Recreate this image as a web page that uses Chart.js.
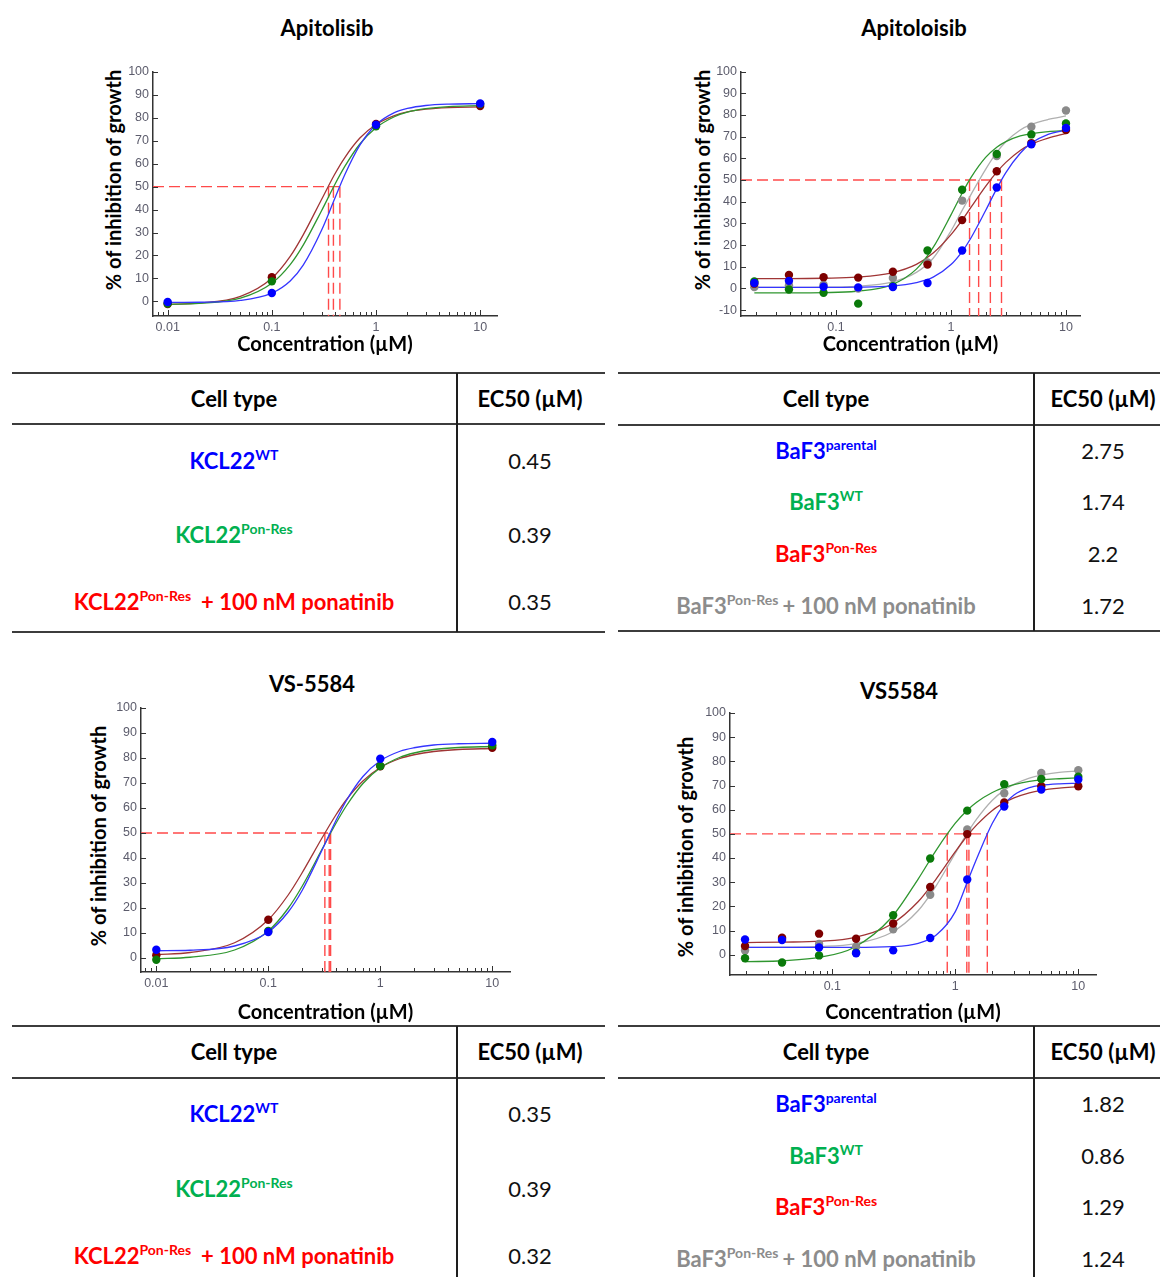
<!DOCTYPE html>
<html>
<head>
<meta charset="utf-8">
<script src="https://cdn.jsdelivr.net/npm/chart.js@4.4.1/dist/chart.umd.min.js"></script>
<style>
  body { margin: 0; background: #fff; }
  #page { position: relative; width: 1160px; height: 1277px; overflow: hidden; font-family: Lato, "Open Sans", sans-serif; color: #000; }
  canvas { position: absolute; }
  .title { position: absolute; transform: translate(-50%, -50%); font-weight: 700; font-size: 22px; white-space: nowrap; }
  .ytitle { position: absolute; transform: translate(-50%, -50%) rotate(-90deg); font-weight: 700; font-size: 20px; white-space: nowrap; }
  .hline { position: absolute; height: 2px; background: #3c3c3c; }
  .vline { position: absolute; width: 2px; background: #1e1e1e; }
  .cell { position: absolute; transform: translate(-50%, -50%); white-space: nowrap; font-size: 22px; line-height: 1; }
  .head { font-weight: 700; }
  .lab { font-weight: 700; }
  .sp { font-size: 14px; position: relative; top: -9px; }
</style>
</head>
<body>
<div id="page">
  <div class="title" style="left:327px;top:27px">Apitolisib</div>
  <div class="title" style="left:914px;top:27px">Apitoloisib</div>
  <div class="title" style="left:312px;top:683px">VS-5584</div>
  <div class="title" style="left:899px;top:690px">VS5584</div>

  <div class="ytitle" style="left:113px;top:180px">% of inhibition of growth</div>
  <div class="ytitle" style="left:702px;top:180px">% of inhibition of growth</div>
  <div class="ytitle" style="left:98px;top:836px">% of inhibition of growth</div>
  <div class="ytitle" style="left:685px;top:847px">% of inhibition of growth</div>

  <canvas id="chartTL"></canvas>
  <canvas id="chartTR"></canvas>
  <canvas id="chartBL"></canvas>
  <canvas id="chartBR"></canvas>
</div>

<script>
// AXIS TICKS
const xTickLabels = [0.01, 0.1, 1, 10];
const xMinorSteps = [2, 3, 4, 5, 6, 7, 8, 9];
const yTickValues = [-10, 0, 10, 20, 30, 40, 50, 60, 70, 80, 90, 100];

// KCL22 CONCENTRATIONS (µM)
const kclConc = [0.01, 0.1, 1, 10];
const kclCurveConc = [0.01, 0.02, 0.05, 0.1, 0.15, 0.2, 0.3, 0.4, 0.5, 0.7, 1, 1.5, 2, 3, 5, 10];

// BAF3 CONCENTRATIONS (µM)
const bafConc = [0.0195, 0.039, 0.078, 0.156, 0.3125, 0.625, 1.25, 2.5, 5, 10];
const bafCurveConc = [0.0195, 0.04, 0.08, 0.15, 0.3, 0.5, 0.7, 1, 1.25, 1.5, 2, 2.5, 3, 4, 5, 7, 10];

// APITOLISIB - KCL22
const apiKclWT = [-0.3, 3.6, 77, 86.3];
const apiKclPonRes = [-1, 8.7, 76.3, 86];
const apiKclPona = [-1.2, 10.5, 77.3, 85.2];
const apiKclWTCurve = [-0.5, -0.4, 0.4, 3.6, 8.9, 15.8, 31.0, 44.6, 55.1, 68.1, 77.0, 82.3, 84.1, 85.4, 86.0, 86.2];
const apiKclPonResCurve = [-1.3, -0.9, 1.4, 7.9, 16.0, 24.5, 39.5, 50.7, 58.7, 68.6, 75.7, 80.5, 82.5, 84.0, 84.9, 85.3];
const apiKclPonaCurve = [-1.3, -0.8, 2.2, 10.1, 19.6, 29.0, 44.4, 55.3, 62.6, 71.2, 77.1, 81.0, 82.6, 83.8, 84.5, 84.8];
const apiKclEc50Lines = [0.35, 0.39, 0.45];

// APITOLISIB - BAF3
const apiBafParental = [2.5, 3.5, 0.8, 0.5, 0.7, 2.5, 17.5, 46.5, 66.5, 74];
const apiBafWT = [3.2, -0.5, -2, -7, 1, 17.5, 45.5, 62, 71, 76];
const apiBafPonRes = [2.2, 6.2, 5.2, 5, 7.7, 11, 31.5, 54, 67, 73];
const apiBafPona = [0.6, 1.5, 1.7, 0, 4.8, 12, 40.5, 61, 74.5, 82];
const apiBafParentalCurve = [0.5, 0.5, 0.5, 0.6, 1.1, 2.7, 5.2, 11.0, 17.0, 23.5, 35.9, 46.0, 53.4, 62.3, 67.0, 71.0, 73.0];
const apiBafWTCurve = [-2, -2, -1.9, -1.3, 1.5, 8.9, 18.9, 33.9, 43.9, 51.3, 60.4, 65.1, 67.7, 70.3, 71.4, 72.3, 72.7];
const apiBafPonResCurve = [4.5, 4.5, 4.7, 5.2, 7.1, 11.1, 16.3, 24.8, 31.5, 37.6, 47.1, 53.6, 58.1, 63.6, 66.5, 69.3, 71.5];
const apiBafPonaCurve = [0.5, 0.5, 0.6, 1.0, 2.8, 7.4, 13.9, 26.5, 36.0, 43.5, 54.9, 62.7, 67.6, 73.0, 75.6, 77.9, 79.5];
const apiBafEc50Lines = [1.45, 1.74, 2.2, 2.75];

// VS-5584 - KCL22
const vsKclWT = [3.3, 10.4, 79.7, 86.4];
const vsKclPonRes = [-0.7, 10.8, 76.8, 85.1];
const vsKclPona = [1.1, 15.3, 76.7, 84.1];
const vsKclWTCurve = [2.9, 3.1, 4.8, 10.4, 18.3, 26.9, 42.9, 54.8, 63.1, 72.6, 78.9, 82.7, 84.1, 85.2, 85.7, 85.9];
const vsKclPonResCurve = [-0.3, 0.3, 3.2, 10.8, 19.8, 28.6, 43.3, 53.7, 61.0, 69.8, 76.1, 80.3, 82.0, 83.4, 84.2, 84.6];
const vsKclPonaCurve = [1.4, 2.2, 6.1, 15.3, 25.1, 34.0, 47.8, 57.1, 63.4, 70.8, 76.2, 79.8, 81.3, 82.6, 83.4, 83.8];
const vsKclEc50Lines = [0.32, 0.35, 0.36];

// VS5584 - BAF3
const vsBafParental = [6.3, 6.1, 3, 0.6, 1.8, 6.9, 31.1, 61.3, 68.3, 72.5];
const vsBafWT = [-1.5, -3.2, -0.3, 0.8, 16.3, 39.8, 59.6, 70.5, 72.7, 73.6];
const vsBafPonRes = [3.6, 7.0, 8.7, 6.6, 12.9, 28, 49.9, 63, 69.7, 69.7];
const vsBafPona = [1.7, 6.7, 4.4, 3.3, 10.5, 24.8, 51.8, 66.8, 75.2, 76.3];
const vsBafParentalCurve = [3.0, 3.0, 3.0, 3.0, 3.3, 4.7, 8.1, 17.8, 30.0, 40.0, 54.4, 62.2, 66.1, 69.1, 70.1, 70.7, 70.9];
const vsBafWTCurve = [-2.9, -2.5, -1.05, 3.0, 15.2, 31.4, 43.3, 54.4, 59.8, 63.2, 67.1, 69.2, 70.4, 71.7, 72.3, 72.8, 73.2];
const vsBafPonResCurve = [5.0, 5.2, 5.6, 7.1, 12.5, 22.0, 31.4, 42.6, 49.2, 53.8, 59.7, 62.9, 64.9, 67.0, 68.0, 68.9, 69.5];
const vsBafPonaCurve = [3.0, 3.1, 3.4, 4.5, 9.1, 18.3, 28.6, 42.0, 50.3, 56.3, 63.9, 68.1, 70.5, 73.1, 74.3, 75.4, 76.0];
const vsBafEc50Lines = [0.86, 1.24, 1.29, 1.82];

// TABLES
const kclLabels = [['KCL22', 'WT', ''], ['KCL22', 'Pon-Res', ''], ['KCL22', 'Pon-Res', '+ 100 nM ponatinib']];
const bafLabels = [['BaF3', 'parental', ''], ['BaF3', 'WT', ''], ['BaF3', 'Pon-Res', ''], ['BaF3', 'Pon-Res', '+ 100 nM ponatinib']];
const apiKclEc50 = ['0.45', '0.39', '0.35'];
const apiBafEc50 = ['2.75', '1.74', '2.2', '1.72'];
const vsKclEc50 = ['0.35', '0.39', '0.32'];
const vsBafEc50 = ['1.82', '0.86', '1.29', '1.24'];

// STYLES
const kclStyles = [
  {point: '#0000ff', line: '#3535ff'},
  {point: '#0a7a0a', line: '#2f962f'},
  {point: '#7d0000', line: '#a03535'}
];
const bafStyles = [
  {point: '#0000ff', line: '#3535ff'},
  {point: '#0a7a0a', line: '#2f962f'},
  {point: '#7d0000', line: '#a03535'},
  {point: '#8a8a8a', line: '#b0b0b0'}
];
const labelColors3 = ['#0000ff', '#00b050', '#ff0000'];
const labelColors4 = ['#0000ff', '#00b050', '#ff0000', '#8c8c8c'];

const page = document.getElementById('page');

// ALL TICK POSITIONS FOR THE LOG AXIS
function logTickValues(min, max) {
  const values = [];
  [0.001, 0.01, 0.1, 1, 10].forEach(decade => {
    values.push(decade);
    xMinorSteps.forEach(m => values.push(decade * m));
  });
  return values.filter(v => v >= min && v <= max);
}

// INWARD TICK MARKS
const innerTicks = {
  id: 'innerTicks',
  afterDraw(chart) {
    const ctx = chart.ctx;
    const {x, y} = chart.scales;
    const area = chart.chartArea;
    ctx.save();
    ctx.strokeStyle = '#333';
    ctx.lineWidth = 1;
    ctx.beginPath();
    x.ticks.forEach(t => {
      const px = Math.round(x.getPixelForValue(t.value)) + 0.5;
      const len = xTickLabels.includes(t.value) ? 6 : 4;
      ctx.moveTo(px, area.bottom);
      ctx.lineTo(px, area.bottom - len);
    });
    y.ticks.forEach(t => {
      const py = Math.round(y.getPixelForValue(t.value)) + 0.5;
      ctx.moveTo(area.left, py);
      ctx.lineTo(area.left + 5, py);
    });
    ctx.stroke();
    ctx.restore();
  }
};

function pairs(xs, ys) {
  return xs.map((v, i) => ({x: v, y: ys[i]}));
}

// BUILD ONE DOSE-RESPONSE CHART
function doseChart(id, box, area, xr, yr, conc, curveConc, points, curves, ec50Lines, styles, titlePad) {
  const canvas = document.getElementById(id);
  canvas.width = box.w;
  canvas.height = box.h;
  canvas.style.left = box.left + 'px';
  canvas.style.top = box.top + 'px';

  const datasets = [];

  // EC50 DASHED GUIDES
  const dash = {type: 'line', showLine: true, pointRadius: 0, borderColor: '#ff4a4a', borderWidth: 1.4, borderDash: [11, 5], order: 3, tension: 0};
  datasets.push(Object.assign({}, dash, {data: [{x: xr[0], y: 50}, {x: Math.max(...ec50Lines), y: 50}]}));
  ec50Lines.forEach(e => {
    datasets.push(Object.assign({}, dash, {data: [{x: e, y: 50}, {x: e, y: yr[0]}]}));
  });

  curves.forEach((c, i) => {
    datasets.push({
      type: 'line', data: pairs(curveConc, c), showLine: true, pointRadius: 0,
      borderColor: styles[i].line, borderWidth: 1.3, cubicInterpolationMode: 'monotone', order: 2
    });
  });

  points.forEach((p, i) => {
    datasets.push({
      type: 'scatter', data: pairs(conc, p), showLine: false, pointRadius: 4.2,
      pointBackgroundColor: styles[i].point, pointBorderColor: styles[i].point, pointBorderWidth: 0, order: 1
    });
  });

  const tickFont = {family: '"Liberation Sans", Arial, sans-serif', size: 12.5};

  return new Chart(canvas, {
    type: 'scatter',
    data: {datasets},
    options: {
      responsive: false,
      animation: false,
      devicePixelRatio: 1,
      layout: {padding: {left: 0, top: area.top - box.top, right: box.left + box.w - area.right, bottom: 0}},
      plugins: {legend: {display: false}, tooltip: {enabled: false}},
      scales: {
        x: {
          type: 'logarithmic', min: xr[0], max: xr[1],
          afterFit: s => { s.height = box.top + box.h - area.bottom; },
          afterBuildTicks: s => { s.ticks = logTickValues(xr[0], xr[1]).map(v => ({value: v})); },
          ticks: {autoSkip: false, maxRotation: 0, padding: 4, color: '#5c5c6c', font: tickFont,
                  callback: v => xTickLabels.includes(v) ? String(v) : ''},
          grid: {display: false, drawTicks: false},
          border: {display: true, color: '#333', width: 1.5},
          title: {display: true, text: 'Concentration (µM)', color: '#000',
                  font: {family: 'Lato, "Open Sans", sans-serif', size: 20, weight: 'bold'},
                  padding: {top: 0, bottom: titlePad}}
        },
        y: {
          type: 'linear', min: yr[0], max: yr[1],
          afterFit: s => { s.width = area.left - box.left; },
          afterBuildTicks: s => { s.ticks = yTickValues.filter(v => v >= yr[0] && v <= yr[1]).map(v => ({value: v})); },
          ticks: {padding: 4, color: '#5c5c6c', font: tickFont},
          grid: {display: false, drawTicks: false},
          border: {display: true, color: '#333', width: 1.5}
        }
      }
    },
    plugins: [innerTicks]
  });
}

// BUILD ONE EC50 TABLE
function ec50Table(t, labels, values, colors) {
  const line = (cls, style) => {
    const d = document.createElement('div');
    d.className = cls;
    Object.assign(d.style, style);
    page.appendChild(d);
  };
  line('hline', {left: t.left + 'px', width: (t.right - t.left) + 'px', top: (t.top - 1) + 'px'});
  line('hline', {left: t.left + 'px', width: (t.right - t.left) + 'px', top: (t.sep - 1) + 'px'});
  if (t.bottom) line('hline', {left: t.left + 'px', width: (t.right - t.left) + 'px', top: (t.bottom - 1) + 'px'});
  line('vline', {left: (t.vx - 1) + 'px', top: t.top + 'px', height: ((t.bottom || 1277) - t.top) + 'px'});

  const cell = (x, y, html, cls, color) => {
    const d = document.createElement('div');
    d.className = 'cell ' + cls;
    d.style.left = x + 'px';
    d.style.top = y + 'px';
    if (color) d.style.color = color;
    d.innerHTML = html;
    page.appendChild(d);
  };
  cell(t.labelX, t.headY, 'Cell type', 'head');
  cell(t.valueX, t.headY, 'EC50 (µM)', 'head');
  labels.forEach((l, i) => {
    const html = l[0] + '<span class="sp">' + l[1] + '</span>' + (l[2] ? '<span style="margin-left:' + t.gap + 'px">' + l[2] + '</span>' : '');
    cell(t.labelX, t.rows[i], html, 'lab', colors[i]);
    cell(t.valueX, t.rows[i], values[i], '', '#111');
  });
}

doseChart('chartTL', {left: 90, top: 60, w: 420, h: 300}, {left: 153, right: 497, top: 72, bottom: 316},
  [0.00723, 14.5], [-6.4, 100], kclConc, kclCurveConc,
  [apiKclWT, apiKclPonRes, apiKclPona], [apiKclWTCurve, apiKclPonResCurve, apiKclPonaCurve],
  apiKclEc50Lines, kclStyles, 3);

doseChart('chartTR', {left: 680, top: 60, w: 420, h: 300}, {left: 741, right: 1080, top: 70, bottom: 316},
  [0.01493, 13.24], [-12.7, 100], bafConc, bafCurveConc,
  [apiBafParental, apiBafWT, apiBafPonRes, apiBafPona], [apiBafParentalCurve, apiBafWTCurve, apiBafPonResCurve, apiBafPonaCurve],
  apiBafEc50Lines, bafStyles, 3);

doseChart('chartBL', {left: 80, top: 695, w: 445, h: 331}, {left: 141, right: 510, top: 708, bottom: 972},
  [0.0073, 14.4], [-5.6, 100], kclConc, kclCurveConc,
  [vsKclWT, vsKclPonRes, vsKclPona], [vsKclWTCurve, vsKclPonResCurve, vsKclPonaCurve],
  vsKclEc50Lines, kclStyles, 1);

doseChart('chartBR', {left: 670, top: 700, w: 440, h: 326}, {left: 730, right: 1096, top: 713, bottom: 975},
  [0.01472, 13.93], [-8.4, 100], bafConc, bafCurveConc,
  [vsBafParental, vsBafWT, vsBafPonRes, vsBafPona], [vsBafParentalCurve, vsBafWTCurve, vsBafPonResCurve, vsBafPonaCurve],
  vsBafEc50Lines, bafStyles, 1);

ec50Table({left: 12, right: 605, top: 373, sep: 424, bottom: 632, vx: 457, labelX: 234, valueX: 530, headY: 399, rows: [461, 535, 602], gap: 10},
  kclLabels, apiKclEc50, labelColors3);
ec50Table({left: 618, right: 1170, top: 373, sep: 425, bottom: 631, vx: 1034, labelX: 826, valueX: 1103, headY: 399, rows: [451, 502, 554, 606], gap: 4},
  bafLabels, apiBafEc50, labelColors4);
ec50Table({left: 12, right: 605, top: 1026, sep: 1078, bottom: null, vx: 457, labelX: 234, valueX: 530, headY: 1052, rows: [1114, 1189, 1256], gap: 10},
  kclLabels, vsKclEc50, labelColors3);
ec50Table({left: 618, right: 1170, top: 1026, sep: 1078, bottom: null, vx: 1034, labelX: 826, valueX: 1103, headY: 1052, rows: [1104, 1156, 1207, 1259], gap: 4},
  bafLabels, vsBafEc50, labelColors4);
</script>
</body>
</html>
